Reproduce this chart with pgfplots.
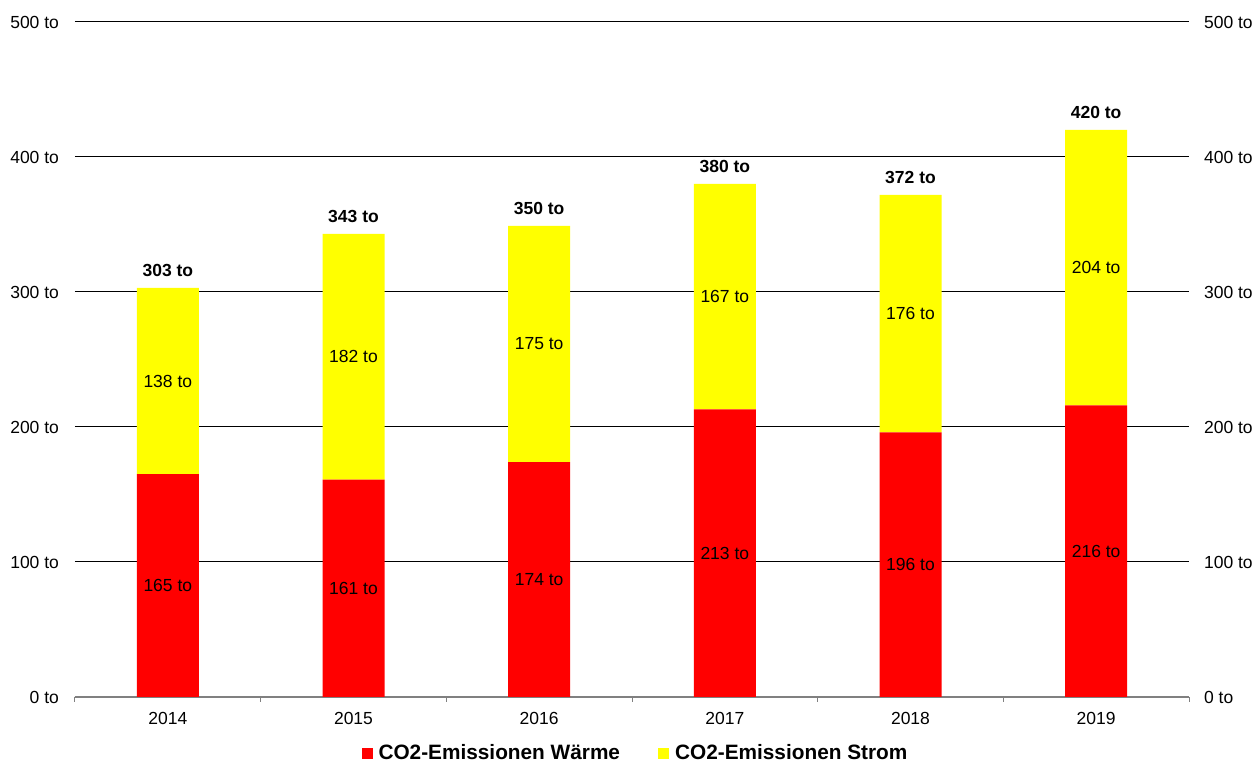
\documentclass[border=0pt]{standalone}
\usepackage{pgfplots}
\usepackage{pgfplotstable}
\pgfplotsset{compat=1.18}
\usepackage{fontspec}
\setmainfont{Liberation Sans}
\definecolor{barred}{HTML}{FF0000}
\definecolor{baryel}{HTML}{FFFF00}
\definecolor{axgray}{HTML}{808080}

% x: year index, w: Waerme, s: Strom, t: total label
\pgfplotstableread{
x w s t
0 165 138 303
1 161 182 343
2 174 175 350
3 213 167 380
4 196 176 372
5 216 204 420
}\co

\begin{document}
\begin{tikzpicture}
\useasboundingbox (0,0) rectangle (627pt,381.5pt);
\pgfplotsset{
  base/.style={
    at={(37.5pt,33pt)}, anchor=south west,
    scale only axis, width=557pt, height=337.5pt,
    xmin=-0.5, xmax=5.5, ymin=0, ymax=500,
    ytick={0,100,...,500},
    /pgf/number format/assume math mode=true,
    tick label style={font=\fontsize{8.75}{10.5}\selectfont},
    yticklabel={\pgfmathprintnumber{\tick} to},
    ytick style={draw=none},
    major tick length=0pt,
  }
}
\begin{axis}[base,
  ybar stacked, bar width=31pt,
  axis lines*=left,
  y axis line style={draw=none},
  x axis line style={axgray, line width=1pt},
  xtick={0,...,5},
  xticklabels={2014,2015,2016,2017,2018,2019},
  xticklabel style={yshift=-4pt},
  yticklabel style={xshift=-4.5pt},
  tick align=outside,
  extra x ticks={-0.5,0.5,...,5.5},
  extra x tick labels={},
  extra x tick style={major tick length=2.5pt, xmajorgrids=false, tick style={axgray, line width=0.5pt}},
  ymajorgrids=true,
  grid style={black, line width=0.5pt},
  legend style={at={(0.504,-0.083)}, anchor=center, draw=none, legend columns=2,
    font=\bfseries\fontsize{10.4}{12.5}\selectfont,
    /tikz/every even column/.append style={column sep=17pt}},
  legend image code/.code={\fill[#1] (0pt,-2.75pt) rectangle (5.5pt,2.75pt); \path (6.5pt,0pt);},
]
\addplot[fill=barred, draw=none] table[x=x, y=w] {\co};
\addplot[fill=baryel, draw=none] table[x=x, y=s] {\co};
\legend{CO2-Emissionen Wärme, CO2-Emissionen Strom}
\end{axis}
\begin{axis}[base,
  axis y line*=right, hide x axis,
  y axis line style={draw=none},
  yticklabel style={xshift=4pt},
  nodes near coords={\pgfmathprintnumber{\pgfplotspointmeta} to},
  nodes near coords style={font=\fontsize{8.75}{10.5}\selectfont, anchor=center},
]
% value labels, centred in each segment
\addplot[only marks, mark=none, point meta=explicit]
  table[x=x, y expr=\thisrow{w}/2, meta=w] {\co};
\addplot[only marks, mark=none, point meta=explicit]
  table[x=x, y expr=\thisrow{w}+\thisrow{s}/2, meta=s] {\co};
% totals above the bars
\addplot[only marks, mark=none, point meta=explicit,
  nodes near coords style={font=\bfseries\fontsize{8.75}{10.5}\selectfont, anchor=south, yshift=2pt}]
  table[x=x, y expr=\thisrow{w}+\thisrow{s}, meta=t] {\co};
\end{axis}
\end{tikzpicture}
\end{document}
